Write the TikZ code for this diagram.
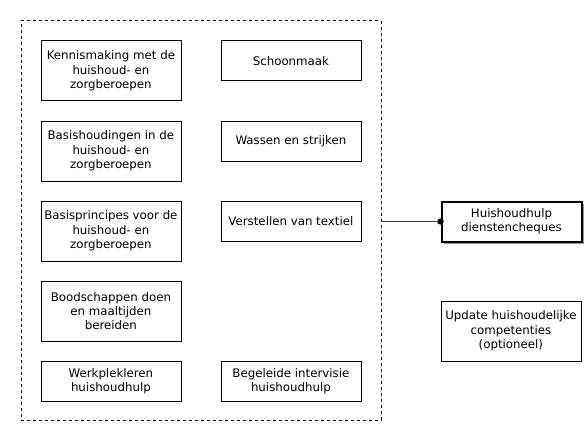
\documentclass[tikz,border=0pt]{standalone}
\usepackage{fontspec}
\setmainfont{DejaVu Sans}
\begin{document}
\begin{tikzpicture}[x=1pt,y=-1pt,
  box/.style={draw=black, line width=0.8pt, fill=white, minimum width=140pt, inner sep=0pt, align=center, font=\fontsize{11.8}{14.3}\selectfont, anchor=north west},
  tall/.style={box, minimum height=60pt},
  short/.style={box, minimum height=40pt},
  conn/.style={draw=black!75, line width=0.8pt}]
\useasboundingbox (0,0) rectangle (588,425);
\node[draw=black, dashed, line width=0.8pt, minimum width=360pt, minimum height=399pt, inner sep=0pt, anchor=north west] (grp) at (20.5,20.5) {};
\node[tall] (k1) at (40.5,40.5) {Kennismaking met de\\huishoud- en\\zorgberoepen};
\node[tall] (k2) at (40.5,120.5) {Basishoudingen in de\\huishoud- en\\zorgberoepen};
\node[tall] (k3) at (40.5,200.5) {Basisprincipes voor de\\huishoud- en\\zorgberoepen};
\node[tall] (k4) at (40.5,280.5) {Boodschappen doen\\en maaltijden\\bereiden};
\node[short] (k5) at (40.5,360.5) {Werkplekleren\\huishoudhulp};
\node[short] (r1) at (220.5,40.5) {Schoonmaak};
\node[short] (r2) at (220.5,120.5) {Wassen en strijken};
\node[short] (r3) at (220.5,200.5) {Verstellen van textiel};
\node[short] (r5) at (220.5,360.5) {Begeleide intervisie\\huishoudhulp};
\fill[black!40] (444,204) rectangle (584,244);
\node[short, line width=2pt] (hd) at (440.5,200.5) {Huishoudhulp\\dienstencheques};
\node[tall] (up) at (440.5,300.5) {Update huishoudelijke\\competenties\\(optioneel)};
\draw[conn] (grp.east |- hd.west) -- (hd.west);
\fill (hd.west) circle (3.2pt);
\end{tikzpicture}
\end{document}
